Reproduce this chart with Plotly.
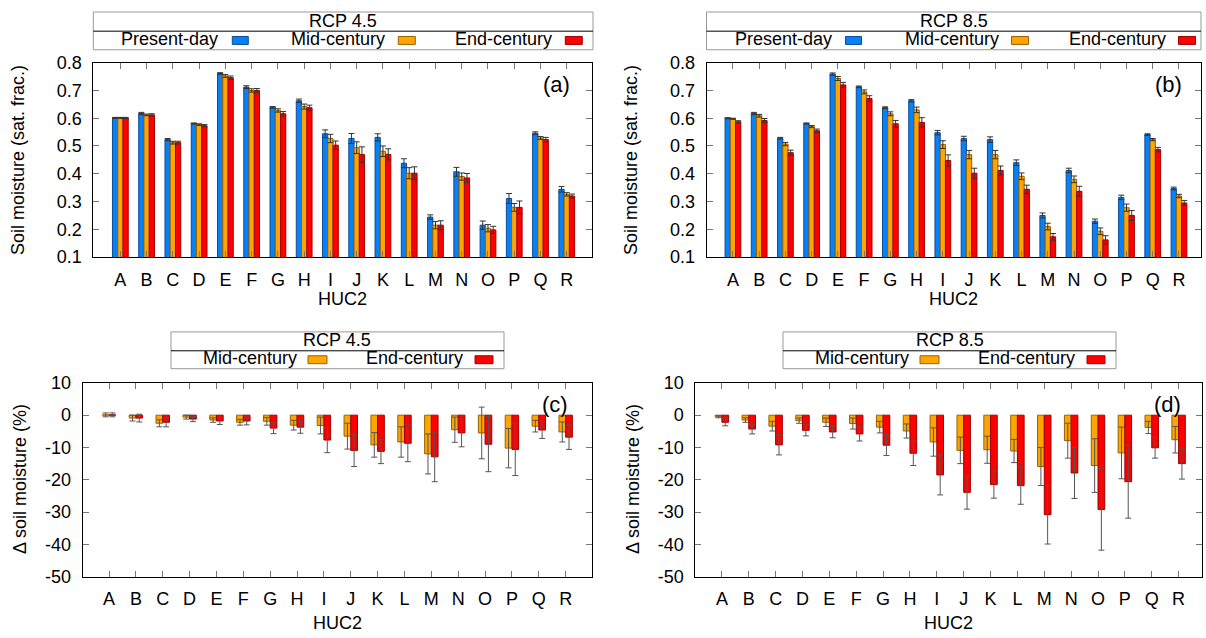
import plotly.graph_objects as go

W, H = 1206, 638
FONT = "Liberation Sans, Arial, Helvetica, sans-serif"

categories = list("ABCDEFGHIJKLMNOPQR")

# Panel (a) RCP 4.5 soil moisture (sat. frac.)
a_present = [0.601, 0.617, 0.523, 0.581, 0.761, 0.712, 0.639, 0.663, 0.544, 0.527, 0.531, 0.438, 0.244, 0.407, 0.215, 0.311, 0.546, 0.344]
a_present_err = [0.002, 0.004, 0.004, 0.002, 0.003, 0.005, 0.003, 0.006, 0.014, 0.018, 0.013, 0.016, 0.008, 0.016, 0.015, 0.018, 0.005, 0.010]
a_mid = [0.601, 0.612, 0.512, 0.577, 0.752, 0.700, 0.628, 0.642, 0.527, 0.494, 0.481, 0.402, 0.215, 0.390, 0.204, 0.279, 0.529, 0.326]
a_mid_err = [0.002, 0.003, 0.005, 0.003, 0.005, 0.006, 0.006, 0.009, 0.015, 0.021, 0.019, 0.020, 0.013, 0.013, 0.013, 0.014, 0.005, 0.006]
a_end = [0.601, 0.612, 0.512, 0.573, 0.746, 0.700, 0.616, 0.638, 0.503, 0.469, 0.470, 0.402, 0.215, 0.385, 0.198, 0.279, 0.523, 0.320]
a_end_err = [0.002, 0.004, 0.005, 0.004, 0.006, 0.007, 0.008, 0.009, 0.015, 0.028, 0.020, 0.023, 0.016, 0.016, 0.013, 0.023, 0.008, 0.007]

# Panel (b) RCP 8.5 soil moisture (sat. frac.)
b_present = [0.600, 0.617, 0.528, 0.581, 0.759, 0.713, 0.638, 0.663, 0.548, 0.527, 0.523, 0.440, 0.250, 0.412, 0.229, 0.315, 0.541, 0.347]
b_present_err = [0.002, 0.004, 0.003, 0.002, 0.004, 0.003, 0.003, 0.004, 0.008, 0.008, 0.010, 0.010, 0.009, 0.008, 0.008, 0.008, 0.003, 0.005]
b_mid = [0.598, 0.609, 0.507, 0.570, 0.743, 0.695, 0.616, 0.630, 0.505, 0.469, 0.469, 0.391, 0.210, 0.380, 0.193, 0.278, 0.523, 0.320]
b_mid_err = [0.002, 0.005, 0.006, 0.004, 0.007, 0.007, 0.007, 0.010, 0.014, 0.015, 0.015, 0.012, 0.012, 0.012, 0.012, 0.013, 0.004, 0.006]
b_end = [0.587, 0.592, 0.476, 0.555, 0.720, 0.671, 0.580, 0.585, 0.448, 0.402, 0.412, 0.344, 0.173, 0.337, 0.162, 0.250, 0.487, 0.295]
b_end_err = [0.004, 0.007, 0.009, 0.006, 0.009, 0.010, 0.012, 0.017, 0.020, 0.018, 0.016, 0.015, 0.012, 0.018, 0.015, 0.018, 0.008, 0.009]

# Panel (c) RCP 4.5 change in soil moisture (%)
c_mid = [0.1, -0.9, -2.5, -0.6, -1.5, -2.2, -1.9, -3.1, -3.2, -6.5, -9.2, -8.3, -12.0, -4.5, -5.5, -10.2, -3.4, -5.2]
c_mid_sd = [0.6, 0.9, 1.1, 0.6, 0.7, 0.9, 1.2, 1.5, 2.6, 4.0, 3.8, 4.7, 6.2, 3.9, 8.0, 6.1, 1.8, 3.1]
c_end = [0.1, -0.9, -2.2, -1.2, -1.8, -1.8, -4.0, -3.7, -7.7, -10.9, -11.2, -8.7, -12.9, -5.5, -9.0, -10.6, -4.6, -6.8]
c_end_sd = [0.6, 1.2, 1.4, 0.8, 1.1, 1.2, 1.7, 1.9, 3.9, 5.0, 3.8, 5.7, 7.7, 4.3, 8.5, 8.1, 2.6, 3.8]

# Panel (d) RCP 8.5 change in soil moisture (%)
d_mid = [-0.5, -1.5, -3.4, -1.7, -2.2, -2.6, -3.7, -4.9, -8.3, -10.9, -10.7, -11.1, -15.9, -7.9, -15.6, -11.7, -3.8, -7.6]
d_mid_sd = [0.3, 0.7, 1.5, 0.8, 1.3, 1.7, 1.8, 2.2, 4.4, 4.1, 4.2, 3.6, 5.9, 5.4, 8.3, 8.0, 1.9, 4.1]
d_end = [-2.2, -4.3, -9.2, -4.7, -5.2, -5.8, -9.3, -11.8, -18.5, -23.9, -21.5, -21.8, -30.8, -17.9, -29.2, -20.6, -10.1, -15.0]
d_end_sd = [1.1, 1.5, 3.1, 1.7, 1.8, 2.2, 3.2, 3.8, 6.2, 5.2, 4.2, 5.8, 9.1, 7.9, 12.6, 11.3, 3.2, 4.8]

sm_ticks = [0.1, 0.2, 0.3, 0.4, 0.5, 0.6, 0.7, 0.8]
dsm_ticks = [10, 0, -10, -20, -30, -40, -50]

BLUE, BLUE_E = "#0a80f5", "#0a4d99"
ORANGE, ORANGE_E = "#ffa500", "#9a6200"
RED, RED_E = "#ff0000", "#a00000"

xpos = list(range(len(categories)))

# the page shows the figure 8 px down and 622 px tall
TOP, VH = 8.0, 622.0


def px(x):
    return x / W


def py(y):
    return 1 - (y - TOP) / VH


fig = go.Figure()


def add_bar(y, err, color, edge, off, wid, xa, ya, errcol, thick=1, capw=2):
    fig.add_trace(go.Bar(
        x=xpos, y=y, width=wid, offset=off,
        marker=dict(color=color, line=dict(color=edge, width=1)),
        error_y=dict(type="data", array=err, visible=True, color=errcol,
                     thickness=thick, width=capw),
        xaxis=xa, yaxis=ya, showlegend=False,
    ))


add_bar(a_present, a_present_err, BLUE, BLUE_E, -0.3, 0.2, "x", "y", "#333333", 1, 3)
add_bar(a_mid, a_mid_err, ORANGE, ORANGE_E, -0.1, 0.2, "x", "y", "#333333", 1, 3)
add_bar(a_end, a_end_err, RED, RED_E, 0.1, 0.2, "x", "y", "#333333", 1, 3)
add_bar(b_present, b_present_err, BLUE, BLUE_E, -0.3, 0.2, "x2", "y2", "#333333", 1, 3)
add_bar(b_mid, b_mid_err, ORANGE, ORANGE_E, -0.1, 0.2, "x2", "y2", "#333333", 1, 3)
add_bar(b_end, b_end_err, RED, RED_E, 0.1, 0.2, "x2", "y2", "#333333", 1, 3)
add_bar(c_mid, c_mid_sd, ORANGE, ORANGE_E, -0.25, 0.25, "x3", "y3", "#555555", 1, 3)
add_bar(c_end, c_end_sd, RED, RED_E, 0.0, 0.25, "x3", "y3", "#555555", 1, 3)
add_bar(d_mid, d_mid_sd, ORANGE, ORANGE_E, -0.25, 0.25, "x4", "y4", "#555555", 1, 3)
add_bar(d_end, d_end_sd, RED, RED_E, 0.0, 0.25, "x4", "y4", "#555555", 1, 3)

tickfont = dict(family=FONT, size=18, color="black")


def xaxis_cfg(dom, rng, anchor):
    return dict(domain=dom, range=rng, anchor=anchor, tickmode="array",
                tickvals=xpos, ticktext=categories, ticks="inside", ticklen=6,
                tickcolor="#777777", showline=True, linecolor="black", linewidth=1,
                mirror="allticks", showgrid=False, zeroline=False,
                tickfont=tickfont, ticklabelstandoff=6)


def yaxis_cfg(dom, rng, anchor, vals, texts):
    return dict(domain=dom, range=rng, anchor=anchor, tickmode="array",
                tickvals=vals, ticktext=texts, ticks="inside", ticklen=6,
                tickcolor="#777777", showline=True, linecolor="black", linewidth=1,
                mirror="allticks", showgrid=False, zeroline=False,
                tickfont=tickfont, ticklabelstandoff=7)


sm_text = ["%.1f" % v for v in sm_ticks]
dsm_text = [str(v) for v in dsm_ticks]

ya_dom = [py(256.7), py(61)]
yc_dom = [py(578.3), py(383.3)]

fig.update_layout(
    width=W, height=H,
    margin=dict(l=0, r=0, t=0, b=0),
    paper_bgcolor="white", plot_bgcolor="white",
    barmode="overlay",
    font=dict(family=FONT, size=18, color="black"),
    xaxis=xaxis_cfg([px(93.3), px(591.7)], [-1.03, 17.95], "y"),
    yaxis=yaxis_cfg(ya_dom, [0.1, 0.8], "x", sm_ticks, sm_text),
    xaxis2=xaxis_cfg([px(706.7), px(1201)], [-1.0, 17.84], "y2"),
    yaxis2=yaxis_cfg(ya_dom, [0.1, 0.8], "x2", sm_ticks, sm_text),
    xaxis3=xaxis_cfg([px(82.7), px(591.7)], [-0.98, 17.97], "y3"),
    yaxis3=yaxis_cfg(yc_dom, [-50, 10], "x3", dsm_ticks, dsm_text),
    xaxis4=xaxis_cfg([px(695.3), px(1201.7)], [-0.99, 17.86], "y4"),
    yaxis4=yaxis_cfg(yc_dom, [-50, 10], "x4", dsm_ticks, dsm_text),
)

shapes = []
annotations = []


def text(x, y, s, size=18, xanchor="center", angle=0):
    annotations.append(dict(x=px(x), y=py(y), xref="paper", yref="paper", text=s,
                            showarrow=False, xanchor=xanchor, yanchor="middle",
                            textangle=angle, borderpad=0,
                            font=dict(family=FONT, size=size, color="black")))


def legend_box(x0, x1, y0, ysep, y1, title, entries):
    shapes.append(dict(type="rect", xref="paper", yref="paper", x0=px(x0), x1=px(x1),
                       y0=py(y1), y1=py(y0), line=dict(color="#999999", width=1)))
    shapes.append(dict(type="line", xref="paper", yref="paper", x0=px(x0), x1=px(x1),
                       y0=py(ysep), y1=py(ysep), line=dict(color="black", width=1)))
    text((x0 + x1) / 2, (y0 + ysep) / 2 - 1, title, size=18)
    ym = (ysep + y1) / 2
    for label, tx, sx0, sx1, col, edge in entries:
        text(tx, ym - 1.5, label, size=18, xanchor="right")
        shapes.append(dict(type="rect", xref="paper", yref="paper", x0=px(sx0), x1=px(sx1),
                           y0=py(ym + 4), y1=py(ym - 4), fillcolor=col,
                           line=dict(color=edge, width=1)))


def top_legend(x0, x1, title):
    legend_box(x0, x1, 10, 29.3, 48, title, [
        ("Present-day", x0 + 126, x0 + 139, x0 + 155, BLUE, BLUE_E),
        ("Mid-century", x0 + 293, x0 + 305, x0 + 322, ORANGE, ORANGE_E),
        ("End-century", x0 + 460, x0 + 472, x0 + 489, RED, RED_E),
    ])


def bottom_legend(x0, x1, title):
    legend_box(x0, x1, 332, 351, 369, title, [
        ("Mid-century", x0 + 127, x0 + 137, x0 + 156, ORANGE, ORANGE_E),
        ("End-century", x0 + 293, x0 + 304, x0 + 322, RED, RED_E),
    ])


top_legend(93.3, 593, "RCP 4.5")
top_legend(706.5, 1201, "RCP 8.5")
bottom_legend(171, 504, "RCP 4.5")
bottom_legend(783, 1116, "RCP 8.5")

text(556.5, 83, "(a)", size=22)
text(1168.5, 83, "(b)", size=22)
text(554.5, 405, "(c)", size=22)
text(1167.5, 405, "(d)", size=22)

text(18, 159, "Soil moisture (sat. frac.)", size=18, angle=-90)
text(631, 159, "Soil moisture (sat. frac.)", size=18, angle=-90)
text(20, 480, "Δ soil moisture (%)", size=18, angle=-90)
text(633, 480, "Δ soil moisture (%)", size=18, angle=-90)
text(342, 299, "HUC2")
text(954, 299, "HUC2")
text(337, 625, "HUC2")
text(948, 625, "HUC2")

fig.update_layout(shapes=shapes, annotations=annotations)

fig.write_html("out.html")
